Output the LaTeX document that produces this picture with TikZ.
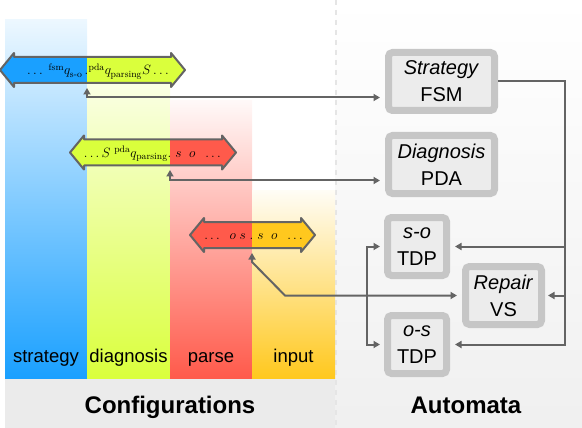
\RequirePackage{fix-cm}
\documentclass[tikz,border=0pt]{standalone}
\usepackage{amsmath}
\usepackage{fontspec}
\newfontfamily\lsans{Liberation Sans}
\usetikzlibrary{arrows.meta}
\definecolor{cstr}{RGB}{26,160,255}
\definecolor{cdia}{RGB}{218,255,60}
\definecolor{cpar}{RGB}{255,90,75}
\definecolor{cinp}{RGB}{255,200,30}
\definecolor{lgray}{RGB}{100,100,100}
\definecolor{boxborder}{RGB}{198,198,198}
\definecolor{boxfill}{RGB}{236,236,236}
\begin{document}
\begin{tikzpicture}[x=1pt,y=-1pt,
  ln/.style={draw=lgray,line width=2pt},
  tip/.style={-{Triangle[length=6.5pt,width=7pt]}},
  dtip/.style={{Triangle[length=6.5pt,width=7pt]}-{Triangle[length=6.5pt,width=7pt]}},
  autbox/.style={draw=boxborder,line width=7pt,fill=boxfill,rounded corners=4pt,minimum height=58pt,inner sep=0pt,align=center,font=\lsans\fontsize{20}{27}\selectfont},
  collab/.style={font=\lsans\fontsize{18.5}{20}\selectfont,anchor=base,inner sep=0pt},
  ttl/.style={font=\lsans\bfseries\fontsize{24}{26}\selectfont,anchor=base,inner sep=0pt},
  mth/.style={font=\fontsize{13.5}{15}\selectfont,inner sep=0pt},
  arr/.style={draw=lgray,line width=2pt,line join=round}]
\useasboundingbox (0,0) rectangle (582,428);
% backgrounds
\shade[top color=white,bottom color=black!6] (335,0) rectangle (582,428);
\fill[black!8] (5,378) rectangle (335,428);
\draw[black!10,line width=2pt,dash pattern=on 5pt off 5pt] (336,0) -- (336,428);
% columns
\shade[top color=cstr!8!white,bottom color=cstr] (5,20) rectangle (87,378);
\shade[top color=cdia!6!white,bottom color=cdia] (87,58) rectangle (170,378);
\shade[top color=cpar!4!white,bottom color=cpar] (170,101) rectangle (252,378);
\shade[top color=cinp!4!white,bottom color=cinp] (252,190) rectangle (335,378);
\node[collab] (lstr) at (46,362) {strategy};
\node[collab] (ldia) at (128.5,362) {diagnosis};
\node[collab] (lpar) at (211,362) {parse};
\node[collab] (linp) at (293.5,362) {input};
\node[ttl] (tconf) at (170,413) {Configurations};
\node[ttl] (taut) at (466,413) {Automata};
% configuration arrow 1
\fill[cstr] (0,70) -- (14,53) -- (14,57) -- (87,57) -- (87,83) -- (14,83) -- (14,87) -- cycle;
\fill[cdia] (185,70) -- (171,53) -- (171,57) -- (87,57) -- (87,83) -- (171,83) -- (171,87) -- cycle;
\draw[arr] (0,70) -- (14,53) -- (14,57) -- (171,57) -- (171,53) -- (185,70) -- (171,87) -- (171,83) -- (14,83) -- (14,87) -- cycle;
\node[mth,anchor=base east] (t1a) at (88.5,75) {$\ldots\;{}^{\mathrm{fsm}}q_{\text{s-o}}\,.$};
\node[mth,anchor=base west] (t1b) at (88.5,75) {${}^{\mathrm{pda}}q_{\mathrm{parsing}}S\ldots$};
% configuration arrow 2
\fill[cdia] (70,152.5) -- (84,135.5) -- (84,139.5) -- (170,139.5) -- (170,165.5) -- (84,165.5) -- (84,169.5) -- cycle;
\fill[cpar] (236,152.5) -- (222,135.5) -- (222,139.5) -- (170,139.5) -- (170,165.5) -- (222,165.5) -- (222,169.5) -- cycle;
\draw[arr] (70,152.5) -- (84,135.5) -- (84,139.5) -- (222,139.5) -- (222,135.5) -- (236,152.5) -- (222,169.5) -- (222,165.5) -- (84,165.5) -- (84,169.5) -- cycle;
\node[mth,anchor=base east] (t2a) at (171.5,157.5) {$\ldots S\;{}^{\mathrm{pda}}q_{\mathrm{parsing}}.$};
\node[mth,anchor=base west] (t2b) at (171.5,157.5) {$\;s\;\;o\;\;\ldots$};
% configuration arrow 3
\fill[cpar] (190,235) -- (204,218) -- (204,222) -- (252,222) -- (252,248) -- (204,248) -- (204,252) -- cycle;
\fill[cinp] (315,235) -- (301,218) -- (301,222) -- (252,222) -- (252,248) -- (301,248) -- (301,252) -- cycle;
\draw[arr] (190,235) -- (204,218) -- (204,222) -- (301,222) -- (301,218) -- (315,235) -- (301,252) -- (301,248) -- (204,248) -- (204,252) -- cycle;
\node[mth,anchor=base east] (t3a) at (253.5,240) {$\ldots\;\;o\;s\;.$};
\node[mth,anchor=base west] (t3b) at (253.5,240) {$\;s\;\;o\;\;\ldots$};
% automata
\node[autbox,minimum width=106pt] (fsm) at (441.5,81.5) {\textit{Strategy}\\FSM};
\node[autbox,minimum width=106pt] (pda) at (441.5,164.5) {\textit{Diagnosis}\\PDA};
\node[autbox,minimum width=59pt] (so) at (417,246.5) {\textit{s-o}\\TDP};
\node[autbox,minimum width=76pt] (rep) at (503.5,295.5) {\textit{Repair}\\VS};
\node[autbox,minimum width=59pt] (os) at (417,344.5) {\textit{o-s}\\TDP};
% connectors
\coordinate (c1) at (87,88);
\coordinate (c2) at (170,170);
\coordinate (c3) at (252,253);
\coordinate (k1) at (252,262);
\coordinate (k2) at (285,295.5);
\coordinate (j) at (367,295.5);
\coordinate (r1) at (565,246.5);
\coordinate (r2) at (565,295.5);
\coordinate (r3) at (565,344.5);
\draw[ln,dtip,shorten >=5pt] (c1) |- ([yshift=-16pt]fsm.west);
\draw[ln,dtip,shorten >=5pt] (c2) |- ([yshift=-16pt]pda.west);
\draw[ln,dtip,shorten >=5pt] (c3) -- (k1) -- (k2) -- (rep.west);
\draw[ln,tip,shorten >=4pt] (j) |- (so.west);
\draw[ln,tip,shorten >=4pt] (j) |- (os.west);
\draw[ln,tip,shorten >=5pt] (fsm.east) -| (r3) -- (os.east);
\draw[ln,tip,shorten >=5pt] (r1) -- (so.east);
\draw[ln,tip,shorten >=3pt] (r2) -- (rep.east);
\end{tikzpicture}
\end{document}
